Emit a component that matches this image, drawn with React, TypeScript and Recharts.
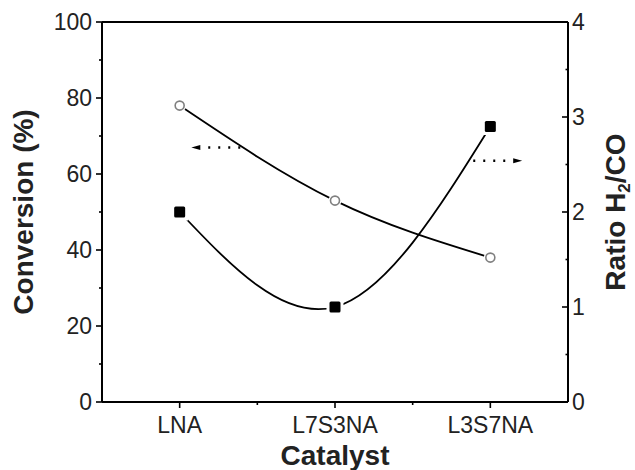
import React from 'react';
import { ComposedChart, Line, XAxis, YAxis, ReferenceLine, ReferenceDot } from 'recharts';

const catalysts = ['LNA', 'L7S3NA', 'L3S7NA'];
const conversion = [78, 53, 38];
const ratioH2CO = [2.0, 1.0, 2.9];
const conversionTicks = [0, 10, 20, 30, 40, 50, 60, 70, 80, 90, 100];
const ratioTicks = [0, 0.5, 1, 1.5, 2, 2.5, 3, 3.5, 4];
// arrows: position along a hidden 0..3 category-span axis, value on its series axis
const conversionArrow = { y: 67, tail: 0.89, head: 0.575 };
const ratioArrow = { y: 2.54, tail: 2.39, head: 2.705 };

const data = catalysts.map((c, i) => ({
  catalyst: c,
  slot: i + 0.5,
  conversion: conversion[i],
  ratio: ratioH2CO[i],
}));

const FONT = "'Liberation Sans', Arial, Helvetica, sans-serif";
const TICK_FS = 23;

const LeftTick = (props: any) => {
  const { x, y, payload } = props;
  const v = payload.value;
  const major = v % 20 === 0;
  return (
    <g>
      <line x1={x - (major ? 6 : 3)} x2={x} y1={y} y2={y} stroke="#000" strokeWidth={1.6} />
      {major && (
        <text x={x - 10} y={y + 8} textAnchor="end" fontSize={TICK_FS} fontFamily={FONT} fill="#222">
          {v}
        </text>
      )}
    </g>
  );
};

const RightTick = (props: any) => {
  const { x, y, payload } = props;
  const v = payload.value;
  const major = Number.isInteger(v);
  return (
    <g>
      <line x1={x - (major ? 6 : 2.5)} x2={x} y1={y} y2={y} stroke="#000" strokeWidth={1.6} />
      {major && (
        <text x={x + 4} y={y + 8} textAnchor="start" fontSize={TICK_FS} fontFamily={FONT} fill="#222">
          {v}
        </text>
      )}
    </g>
  );
};

const BottomTick = (props: any) => {
  const { x, y, payload, index } = props;
  const off = payload && typeof payload.offset === 'number' ? payload.offset : 0;
  return (
    <g>
      <line x1={x} x2={x} y1={y} y2={y + 6} stroke="#000" strokeWidth={1.6} />
      {index < catalysts.length - 1 && off > 0 && (
        <line x1={x + off} x2={x + off} y1={y} y2={y + 3} stroke="#000" strokeWidth={1.6} />
      )}
      <text x={x} y={y + 31} textAnchor="middle" fontSize={TICK_FS} fontFamily={FONT} fill="#222">
        {payload.value}
      </text>
    </g>
  );
};

const CircleDot = (props: any) => {
  const { cx, cy, index } = props;
  return (
    <g key={`c-${index}`}>
      <circle cx={cx} cy={cy} r={6.5} fill="#fff" />
      <circle cx={cx} cy={cy} r={4.5} fill="#fff" stroke="#808080" strokeWidth={1.6} />
    </g>
  );
};

const SquareDot = (props: any) => {
  const { cx, cy, index } = props;
  return (
    <g key={`s-${index}`}>
      <rect x={cx - 8.5} y={cy - 8.5} width={17} height={17} fill="#fff" />
      <rect x={cx - 5.5} y={cy - 5.5} width={11} height={11} rx={1.5} fill="#000" />
    </g>
  );
};

const LeftHead = (props: any) => {
  const { cx, cy } = props;
  return <path d={`M${cx},${cy} L${cx + 9},${cy - 2.5} L${cx + 9},${cy + 2.5} Z`} fill="#000" />;
};
const RightHead = (props: any) => {
  const { cx, cy } = props;
  return <path d={`M${cx},${cy} L${cx - 9},${cy - 2.5} L${cx - 9},${cy + 2.5} Z`} fill="#000" />;
};

const LeftTitle = (props: any) => {
  const vb = props.viewBox || {};
  const cx = (vb.x ?? 0) + 33;
  const cy = (vb.y ?? 0) + (vb.height ?? 0) / 2;
  return (
    <text
      x={cx}
      y={cy}
      transform={`rotate(-90, ${cx}, ${cy})`}
      textAnchor="middle"
      fontSize={28}
      fontWeight="bold"
      fontFamily={FONT}
      fill="#222"
    >
      Conversion (%)
    </text>
  );
};

const RightTitle = (props: any) => {
  const vb = props.viewBox || {};
  const cx = (vb.x ?? 0) + 57;
  const cy = (vb.y ?? 0) + (vb.height ?? 0) / 2;
  return (
    <text
      x={cx}
      y={cy}
      transform={`rotate(-90, ${cx}, ${cy})`}
      textAnchor="middle"
      fontSize={28}
      fontWeight="bold"
      fontFamily={FONT}
      fill="#222"
    >
      Ratio H
      <tspan fontSize={17} dy={5}>2</tspan>
      <tspan dy={-5}>/CO</tspan>
    </text>
  );
};

const BottomTitle = (props: any) => {
  const vb = props.viewBox || {};
  const cx = (vb.x ?? 0) + (vb.width ?? 0) / 2;
  const cy = (vb.y ?? 0) + 63;
  return (
    <text x={cx} y={cy} textAnchor="middle" fontSize={28} fontWeight="bold" fontFamily={FONT} fill="#222">
      Catalyst
    </text>
  );
};

export default function App() {
  return (
    <div style={{ position: 'absolute', left: 0, top: 0, width: 635, height: 470, background: '#fff' }}>
      <ComposedChart width={635} height={470} data={data} margin={{ top: 22, right: 0, bottom: 0, left: 0 }}>
        <XAxis
          dataKey="catalyst"
          xAxisId="cat"
          type="category"
          scale="band"
          height={68}
          axisLine={{ stroke: '#000', strokeWidth: 2 }}
          tickLine={false}
          tickSize={0}
          tickMargin={0}
          tick={<BottomTick />}
          interval={0}
          label={{ content: <BottomTitle /> }}
        />
        <XAxis
          xAxisId="n"
          dataKey="slot"
          type="number"
          domain={[0, catalysts.length]}
          hide
          allowDataOverflow
        />
        <YAxis
          yAxisId="left"
          orientation="left"
          width={102}
          domain={[0, 100]}
          ticks={conversionTicks}
          interval={0}
          axisLine={{ stroke: '#000', strokeWidth: 2 }}
          tickLine={false}
          tickSize={0}
          tickMargin={0}
          tick={<LeftTick />}
          label={{ content: <LeftTitle /> }}
        />
        <YAxis
          yAxisId="right"
          orientation="right"
          width={67}
          domain={[0, 4]}
          ticks={ratioTicks}
          interval={0}
          axisLine={{ stroke: '#000', strokeWidth: 2 }}
          tickLine={false}
          tickSize={0}
          tickMargin={0}
          tick={<RightTick />}
          label={{ content: <RightTitle /> }}
        />
        <ReferenceLine yAxisId="left" xAxisId="cat" y={100} stroke="#000" strokeWidth={2} />
        <Line
          xAxisId="cat"
          yAxisId="left"
          dataKey="conversion"
          type="natural"
          stroke="#000"
          strokeWidth={1.8}
          dot={<CircleDot />}
          activeDot={false}
          isAnimationActive={false}
        />
        <Line
          xAxisId="cat"
          yAxisId="right"
          dataKey="ratio"
          type="natural"
          stroke="#000"
          strokeWidth={1.8}
          dot={<SquareDot />}
          activeDot={false}
          isAnimationActive={false}
        />
        <ReferenceLine
          xAxisId="n"
          yAxisId="left"
          ifOverflow="visible"
          segment={[
            { x: conversionArrow.tail, y: conversionArrow.y },
            { x: conversionArrow.head + 0.06, y: conversionArrow.y },
          ]}
          stroke="#000"
          strokeWidth={2.5}
          strokeDasharray="2 8"
        />
        <ReferenceDot
          xAxisId="n"
          yAxisId="left"
          ifOverflow="visible"
          x={conversionArrow.head}
          y={conversionArrow.y}
          shape={<LeftHead />}
        />
        <ReferenceLine
          xAxisId="n"
          yAxisId="right"
          ifOverflow="visible"
          segment={[
            { x: ratioArrow.tail, y: ratioArrow.y },
            { x: ratioArrow.head - 0.06, y: ratioArrow.y },
          ]}
          stroke="#000"
          strokeWidth={2.5}
          strokeDasharray="2 8"
        />
        <ReferenceDot
          xAxisId="n"
          yAxisId="right"
          ifOverflow="visible"
          x={ratioArrow.head}
          y={ratioArrow.y}
          shape={<RightHead />}
        />
      </ComposedChart>
    </div>
  );
}
